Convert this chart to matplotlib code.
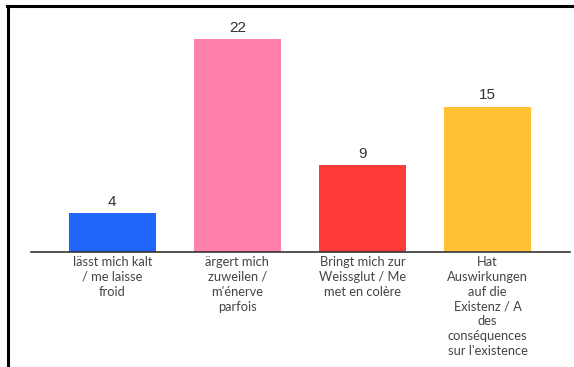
import matplotlib.pyplot as plt
from matplotlib.lines import Line2D

categories = [
    "lässt mich kalt\n/ me laisse\nfroid",
    "ärgert mich\nzuweilen /\nm'énerve\nparfois",
    "Bringt mich zur\nWeissglut / Me\nmet en colère",
    "Hat\nAuswirkungen\nauf die\nExistenz / A\ndes\nconséquences\nsur l'existence",
]
values = [4, 22, 9, 15]
colors = ["#1F66FA", "#FF80A8", "#FF3A3A", "#FFC234"]

W, H = 574, 367
fig = plt.figure(figsize=(W / 100, H / 100), dpi=100)
ax = fig.add_axes([31 / W, 1 - 252 / H, (570 - 31) / W, (252 - 10) / H])

x = range(len(values))
bars = ax.bar(x, values, width=0.70, color=colors)
for b, v in zip(bars, values):
    ax.text(b.get_x() + b.get_width() / 2, v + 0.45, str(v), ha="center", va="bottom",
            fontsize=11, color="#333333", family="Liberation Sans")

ax.set_xlim(-0.65, 3.66)
ax.set_ylim(0, 25)
ax.set_xticks(list(x))
ax.set_xticklabels(categories, fontsize=9.3, color="#444444", family="Lato", linespacing=1.28)
ax.tick_params(axis="x", length=0, pad=3)
ax.set_yticks([])
for s in ["top", "right", "left"]:
    ax.spines[s].set_visible(False)
ax.spines["bottom"].set_color("#333333")
ax.spines["bottom"].set_linewidth(1.2)

# frame of the screenshot
fig.add_artist(Line2D([8 / W, 8 / W], [0, 1 - 6 / H], color="black", lw=2.2, transform=fig.transFigure))
fig.add_artist(Line2D([7 / W, 1], [1 - 6 / H, 1 - 6 / H], color="black", lw=2.2, transform=fig.transFigure))

fig.savefig("out.png", dpi=100)
